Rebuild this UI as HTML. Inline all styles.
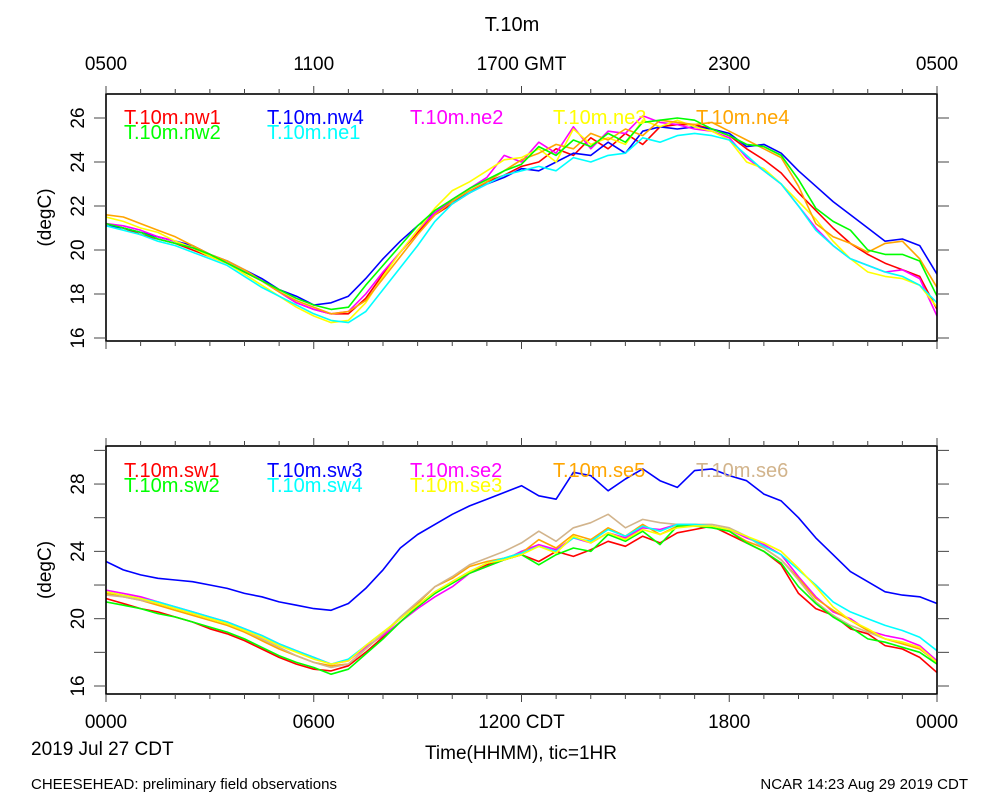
<!DOCTYPE html>
<html><head><meta charset="utf-8"><style>
body{margin:0;background:#fff;}
svg{display:block;font-family:"Liberation Sans",sans-serif;}
</style></head><body>
<svg id="chart" width="1000" height="800" viewBox="0 0 1000 800"></svg>
<script>
const hours = [];
for (let i = 0; i <= 48; i++) hours.push(i * 0.5);
const topTicks = [16, 18, 20, 22, 24, 26];
const botTicks = [16, 20, 24, 28];
const topNames = ["T.10m.nw1","T.10m.nw4","T.10m.ne2","T.10m.ne3","T.10m.ne4","T.10m.nw2","T.10m.ne1"];
const botNames = ["T.10m.sw1","T.10m.sw3","T.10m.se2","T.10m.se5","T.10m.se6","T.10m.sw2","T.10m.sw4","T.10m.se3"];
const nw1 = [21.2,21.0,20.7,20.5,20.3,20.0,19.7,19.4,19.0,18.6,18.1,17.6,17.3,17.1,17.1,17.8,18.9,19.9,20.8,21.6,22.1,22.6,23.1,23.4,23.8,24.0,24.6,24.3,25.1,24.6,25.3,24.8,25.6,25.7,25.7,25.5,25.2,24.6,24.1,23.5,22.6,21.8,21.0,20.3,19.8,19.4,19.1,18.8,17.3];
const nw4 = [21.1,21.0,20.8,20.6,20.4,20.2,19.8,19.5,19.1,18.7,18.2,17.9,17.5,17.6,17.9,18.7,19.6,20.4,21.1,21.7,22.2,22.6,23.0,23.3,23.7,23.6,24.0,24.4,24.3,24.9,24.4,25.4,25.6,25.5,25.6,25.5,25.3,24.7,24.8,24.4,23.6,22.9,22.2,21.6,21.0,20.4,20.5,20.2,18.9];
const ne2 = [21.2,21.1,20.9,20.6,20.4,20.1,19.8,19.4,19.0,18.6,18.1,17.6,17.3,17.1,17.2,18.0,19.0,19.9,20.9,21.7,22.3,22.8,23.3,24.3,24.0,24.9,24.4,25.6,24.6,25.4,25.3,26.1,25.8,25.7,25.5,25.4,25.1,24.2,23.6,23.0,22.0,21.0,20.2,19.6,19.3,19.0,19.1,18.7,17.0];
const ne3 = [21.5,21.3,21.0,20.8,20.4,20.1,19.7,19.4,18.9,18.4,17.9,17.4,17.0,16.7,16.8,17.6,18.8,19.9,20.9,21.9,22.7,23.1,23.6,24.1,24.2,24.6,24.0,25.5,24.8,25.1,24.8,25.9,25.6,25.9,25.6,25.4,25.0,24.0,23.7,23.0,22.2,21.4,20.4,19.6,19.0,18.8,18.7,18.4,17.4];
const ne4 = [21.6,21.5,21.2,20.9,20.6,20.2,19.8,19.5,19.1,18.6,18.1,17.7,17.4,17.1,17.2,17.7,18.7,19.7,20.7,21.6,22.2,22.7,23.1,23.6,24.1,24.4,24.8,24.6,25.3,25.0,25.5,25.2,25.9,25.8,25.7,25.8,25.4,25.0,24.6,24.2,22.9,21.2,20.6,20.3,19.9,20.3,20.4,19.6,18.3];
const nw2 = [21.2,21.0,20.8,20.5,20.3,20.1,19.8,19.4,19.0,18.6,18.2,17.8,17.5,17.3,17.4,18.4,19.3,20.2,21.1,21.8,22.3,22.8,23.2,23.6,23.9,24.7,24.3,25.0,24.7,25.3,24.9,25.8,25.9,26.0,25.9,25.5,25.2,24.8,24.7,24.3,23.2,21.9,21.3,20.9,20.0,19.8,19.8,19.5,17.9];
const ne1 = [21.1,20.9,20.7,20.4,20.2,19.9,19.6,19.3,18.8,18.3,17.9,17.5,17.1,16.8,16.7,17.2,18.2,19.2,20.2,21.3,22.1,22.6,23.0,23.4,23.6,23.8,23.6,24.2,24.0,24.3,24.4,25.1,24.9,25.2,25.3,25.2,25.0,24.3,23.6,23.0,22.0,20.9,20.2,19.6,19.3,19.0,18.8,18.4,17.6];
const sw1 = [21.2,20.9,20.6,20.4,20.1,19.8,19.4,19.1,18.7,18.2,17.7,17.3,17.0,16.9,17.2,18.0,18.9,19.8,20.7,21.5,22.2,22.8,23.2,23.5,23.8,23.4,24.0,23.7,24.1,24.6,24.3,24.9,24.5,25.1,25.3,25.5,25.0,24.5,24.0,23.2,21.5,20.6,20.2,19.4,19.1,18.4,18.2,17.7,16.8];
const sw3 = [23.4,22.9,22.6,22.4,22.3,22.2,22.0,21.8,21.5,21.3,21.0,20.8,20.6,20.5,20.9,21.8,22.9,24.2,25.0,25.6,26.2,26.7,27.1,27.5,27.9,27.3,27.1,28.7,28.5,27.6,28.3,28.9,28.2,27.8,28.8,28.9,28.5,28.2,27.4,27.0,26.0,24.8,23.8,22.8,22.2,21.6,21.4,21.3,20.9];
const se2 = [21.7,21.5,21.3,21.0,20.7,20.4,20.1,19.8,19.4,19.0,18.5,18.1,17.7,17.3,17.5,18.3,19.0,19.8,20.6,21.3,21.9,22.7,23.1,23.5,24.0,24.4,24.1,24.8,24.5,25.1,24.8,25.4,25.3,25.6,25.6,25.5,25.3,24.8,24.4,23.8,22.5,21.3,20.4,20.0,19.3,19.0,18.8,18.4,17.5];
const se5 = [21.5,21.3,21.1,20.8,20.5,20.2,19.9,19.6,19.2,18.7,18.2,17.8,17.4,17.2,17.3,18.2,19.1,20.0,20.9,21.9,22.4,23.1,23.4,23.6,23.9,24.7,24.2,25.0,24.7,25.4,24.9,25.6,25.0,25.5,25.6,25.5,25.2,24.6,24.2,23.5,22.4,21.2,20.5,19.9,19.3,18.8,18.5,18.2,17.4];
const se6 = [21.4,21.3,21.1,20.9,20.6,20.3,20.0,19.7,19.3,18.8,18.3,17.8,17.4,17.1,17.3,18.2,19.1,20.1,21.0,21.9,22.5,23.2,23.6,24.0,24.5,25.2,24.6,25.4,25.7,26.2,25.4,25.9,25.7,25.6,25.6,25.6,25.4,24.9,24.2,23.5,22.3,21.0,20.2,19.6,19.2,18.8,18.6,18.3,17.3];
const sw2 = [21.0,20.8,20.6,20.3,20.1,19.8,19.5,19.2,18.8,18.3,17.8,17.4,17.1,16.7,17.0,17.9,18.8,19.8,20.7,21.5,22.1,22.7,23.1,23.5,23.8,23.2,23.8,24.2,24.0,25.0,24.6,25.2,24.4,25.5,25.5,25.4,25.2,24.5,24.0,23.3,21.9,20.9,20.1,19.5,18.8,18.6,18.3,18.0,17.3];
const sw4 = [21.6,21.4,21.2,21.0,20.7,20.4,20.1,19.8,19.4,19.0,18.5,18.1,17.7,17.3,17.6,18.4,19.2,20.0,20.8,21.6,22.2,22.8,23.3,23.6,23.9,24.3,24.0,24.8,24.6,25.3,24.9,25.5,25.2,25.6,25.6,25.5,25.3,24.9,24.3,23.8,22.9,22.0,21.0,20.4,20.0,19.6,19.3,18.9,18.1];
const se3 = [21.6,21.4,21.2,20.9,20.6,20.3,20.0,19.7,19.3,18.9,18.4,18.0,17.6,17.3,17.5,18.4,19.2,20.0,20.8,21.6,22.2,22.8,23.3,23.5,23.8,24.3,23.9,24.9,24.5,25.1,24.7,25.3,25.0,25.4,25.5,25.5,25.3,24.9,24.5,24.0,23.0,21.9,20.7,19.9,19.4,18.8,18.6,18.3,17.4];

const NS = "http://www.w3.org/2000/svg";
const svg = document.getElementById("chart");
function mk(tag, attrs, parent) {
  const e = document.createElementNS(NS, tag);
  for (const k in attrs) e.setAttribute(k, attrs[k]);
  (parent || svg).appendChild(e);
  return e;
}
const X0 = 106, X1 = 937;
function xs(h) { return X0 + (X1 - X0) * h / 24; }

function panel(cfg) {
  const g = mk("g", {});
  
  
  const ys = v => cfg.y16 - (v - 16) * cfg.ppd;
  const clip = mk("clipPath", {id: cfg.name + "-clip"}, g);
  mk("rect", {x: X0, y: cfg.top, width: X1 - X0, height: cfg.bot - cfg.top}, clip);
  const sg = mk("g", {"clip-path": "url(#" + cfg.name + "-clip)"}, g);
  cfg.series.forEach((s, i) => {
    const d = s.vals.map((v, j) => (j ? "L" : "M") + xs(hours[j]).toFixed(1) + " " + ys(v).toFixed(1)).join(" ");
    const p = mk("path", {d: d, fill: "none", stroke: s.color, "stroke-width": 1.6, "stroke-linejoin": "round"}, sg);
    
    
  });
  const fr = mk("rect", {x: X0, y: cfg.top, width: X1 - X0, height: cfg.bot - cfg.top, fill: "none", stroke: "#000", "stroke-width": 1.6}, g);
  
  
  for (let h = 0; h <= 24; h++) {
    const len = h % 6 === 0 ? 8 : 5;
    mk("line", {x1: xs(h), x2: xs(h), y1: cfg.top, y2: cfg.top - len, stroke: "#444", "stroke-width": 1}, g);
    mk("line", {x1: xs(h), x2: xs(h), y1: cfg.bot, y2: cfg.bot + len, stroke: "#444", "stroke-width": 1}, g);
  }
  for (let v = 16; v <= cfg.maxTick; v += 2) {
    const y = ys(v);
    if (y < cfg.top - 1) continue;
    mk("line", {x1: X0 - 12, x2: X0, y1: y, y2: y, stroke: "#444", "stroke-width": 1}, g);
    mk("line", {x1: X1, x2: X1 + 12, y1: y, y2: y, stroke: "#444", "stroke-width": 1}, g);
  }
  cfg.labels.forEach(v => {
    const y = ys(v);
    const t = mk("text", {x: 0, y: 0, transform: "translate(84," + y + ") rotate(-90)", "text-anchor": "middle", "font-size": 19, fill: "#000"}, g);
    t.textContent = v;
    
    
  });
  const yt = mk("text", {x: 0, y: 0, transform: "translate(51," + ((cfg.top + cfg.bot) / 2) + ") rotate(-90)", "text-anchor": "middle", "font-size": 19}, g);
  yt.textContent = "(degC)";
  
  
  cfg.series.forEach((s, i) => {
    const col = i < 5 ? i : i - 5;
    const row = i < 5 ? 0 : 1;
    const t = mk("text", {x: 124 + col * 143, y: cfg.legY + row * 15, "font-size": 20, fill: s.color}, g);
    t.textContent = s.label;
    
    
  });
}

panel({name: "top-panel", top: 94, bot: 341, y16: 338, ppd: 22, maxTick: 26, labels: topTicks, legY: 124,
  series: [
    {label: topNames[0], color: "#ff0000", vals: nw1},
    {label: topNames[1], color: "#0000ff", vals: nw4},
    {label: topNames[2], color: "#ff00ff", vals: ne2},
    {label: topNames[3], color: "#ffff00", vals: ne3},
    {label: topNames[4], color: "#ffa500", vals: ne4},
    {label: topNames[5], color: "#00ff00", vals: nw2},
    {label: topNames[6], color: "#00ffff", vals: ne1}
  ]});
panel({name: "bottom-panel", top: 446, bot: 694, y16: 686, ppd: 16.83, maxTick: 30, labels: botTicks, legY: 477,
  series: [
    {label: botNames[0], color: "#ff0000", vals: sw1},
    {label: botNames[1], color: "#0000ff", vals: sw3},
    {label: botNames[2], color: "#ff00ff", vals: se2},
    {label: botNames[3], color: "#ffa500", vals: se5},
    {label: botNames[4], color: "#d2b48c", vals: se6},
    {label: botNames[5], color: "#00ff00", vals: sw2},
    {label: botNames[6], color: "#00ffff", vals: sw4},
    {label: botNames[7], color: "#ffff00", vals: se3}
  ]});

function txt(x, y, s, size, anchor, name) {
  const t = mk("text", {x: x, y: y, "font-size": size, "text-anchor": anchor || "start", fill: "#000"});
  t.textContent = s;
  
  
}
txt(512, 31, "T.10m", 20, "middle", "chart-title");
const gmt = ["0500", "1100", "1700 GMT", "2300", "0500"];
gmt.forEach((s, i) => txt(xs(i * 6), 70, s, 19, "middle", "top-x-tick-label"));
const cdt = ["0000", "0600", "1200 CDT", "1800", "0000"];
cdt.forEach((s, i) => txt(xs(i * 6), 728, s, 19, "middle", "x-tick-label"));
txt(31, 755, "2019 Jul 27 CDT", 19, "start", "date-label");
txt(521, 759, "Time(HHMM), tic=1HR", 19, "middle", "x-axis-title");
txt(31, 789, "CHEESEHEAD: preliminary field observations", 15, "start", "footer-left");
txt(968, 789, "NCAR 14:23 Aug 29 2019 CDT", 15, "end", "footer-right");
</script>
</body></html>
